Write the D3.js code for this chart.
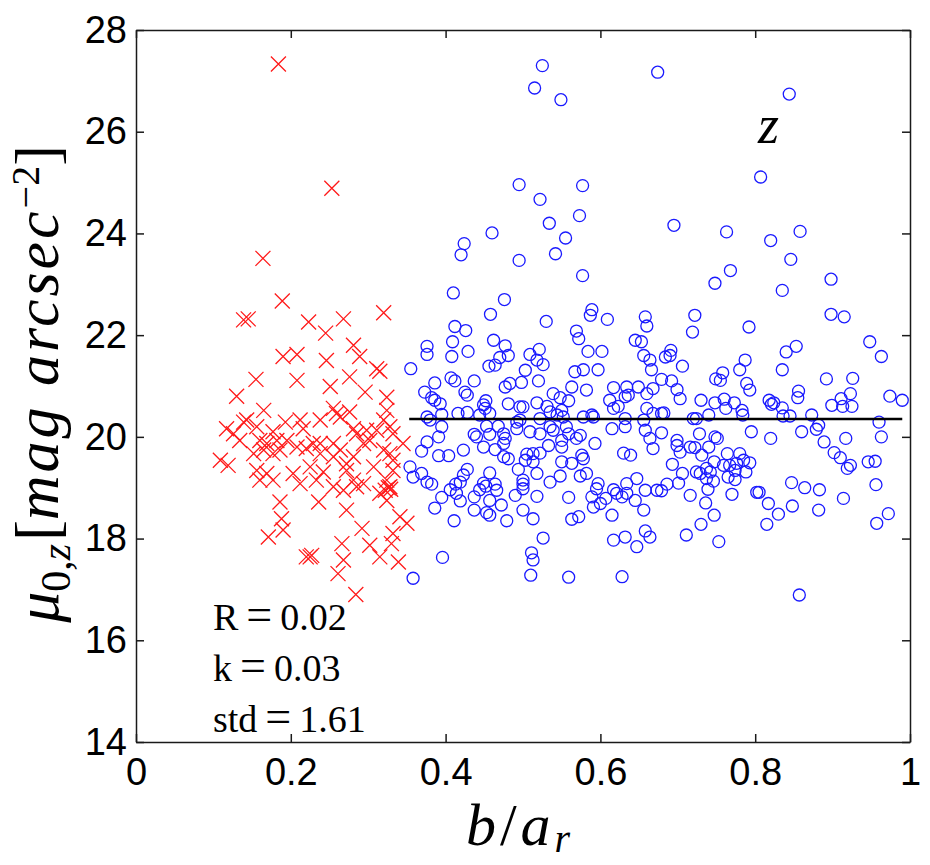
<!DOCTYPE html>
<html>
<head>
<meta charset="utf-8">
<script src="https://cdn.jsdelivr.net/npm/d3@7"></script>
<style>
  body { margin: 0; background: #fff; }
  .tick text { font-family: "Liberation Sans", Arial, sans-serif; font-size: 38px; fill: #000; }
  .tick line, .domain { stroke: #1a1a1a; stroke-width: 1.5px; }
</style>
</head>
<body>
<div id="chart"></div>
<script>
// scatter of mu_0,z against b/a_r, red x = small ratio, blue o = the rest

var xTicks = [0, 0.2, 0.4, 0.6, 0.8, 1];
var yTicks = [14, 16, 18, 20, 22, 24, 26, 28];

// fit line (b/a_r start, end, level)
var fitLine = [[0.353, 20.35], [0.99, 20.35]];

var statLines = ["R", "0.02", "k", "0.03", "std", "1.61"];

// b/a_r < 0.35, drawn as red crosses
var crossPoints = [
  [0.184,27.33],[0.253,24.89],[0.164,23.51],[0.189,22.67],[0.139,22.30],[0.145,22.32],[0.223,22.26],
  [0.268,22.32],[0.320,22.44],[0.245,22.04],[0.281,21.80],[0.190,21.58],[0.208,21.62],[0.289,21.58],
  [0.246,21.50],[0.155,21.13],[0.208,21.11],[0.311,21.34],[0.315,21.29],[0.251,20.99],[0.276,21.18],
  [0.130,20.80],[0.296,20.88],[0.324,20.78],[0.165,20.52],[0.255,20.56],[0.259,20.46],[0.264,20.39],
  [0.324,20.52],[0.143,20.33],[0.139,20.29],[0.117,20.16],[0.193,20.29],[0.212,20.33],[0.238,20.33],
  [0.276,20.49],[0.320,20.33],[0.126,20.06],[0.156,20.20],[0.177,20.10],[0.216,20.16],[0.281,20.16],
  [0.285,20.06],[0.298,20.13],[0.311,20.13],[0.328,20.20],[0.332,20.06],[0.345,19.87],[0.134,19.93],
  [0.160,19.93],[0.169,19.87],[0.182,19.93],[0.195,19.93],[0.229,19.87],[0.238,19.87],[0.255,19.87],
  [0.264,19.74],[0.294,19.87],[0.302,19.93],[0.320,19.74],[0.328,19.67],[0.109,19.54],[0.119,19.44],
  [0.152,19.67],[0.165,19.74],[0.177,19.67],[0.186,19.74],[0.208,19.80],[0.220,19.77],[0.238,19.67],
  [0.255,19.61],[0.272,19.47],[0.281,19.61],[0.307,19.41],[0.332,19.54],[0.156,19.34],[0.169,19.28],
  [0.177,19.15],[0.203,19.28],[0.225,19.41],[0.242,19.31],[0.272,19.34],[0.281,19.15],[0.294,19.08],
  [0.324,19.15],[0.328,19.02],[0.160,19.15],[0.212,19.08],[0.233,19.15],[0.255,19.02],[0.268,18.95],
  [0.285,19.02],[0.315,18.89],[0.332,19.34],[0.186,18.72],[0.236,18.72],[0.272,18.56],[0.324,18.75],
  [0.188,18.39],[0.190,18.17],[0.171,18.03],[0.220,17.64],[0.227,17.67],[0.225,17.64],[0.266,17.90],
  [0.268,17.58],[0.261,17.31],[0.292,18.20],[0.302,17.87],[0.315,17.64],[0.330,17.90],[0.332,18.10],
  [0.339,17.54],[0.341,18.43],[0.350,18.30],[0.284,16.90],[0.326,19.00],[0.322,18.95],[0.329,18.97]
];

// b/a_r >= 0.35, drawn as blue circles
var circlePoints = [
  [0.525,27.30],[0.515,26.86],[0.549,26.63],[0.674,27.17],[0.495,24.96],[0.577,24.94],[0.522,24.67],
  [0.573,24.35],[0.534,24.20],[0.460,24.01],[0.555,23.91],[0.424,23.80],[0.420,23.58],[0.495,23.47],
  [0.542,23.60],[0.577,23.17],[0.410,22.83],[0.476,22.70],
  [0.844,26.74],[0.807,25.11],[0.695,24.16],[0.763,24.03],[0.820,23.86],[0.858,24.04],[0.846,23.49],
  [0.768,23.27],[0.748,23.02],[0.898,23.10],[0.835,22.88],
  [0.458,22.41],[0.530,22.27],[0.589,22.50],[0.587,22.39],[0.609,22.31],[0.658,22.36],[0.660,22.18],
  [0.412,22.17],[0.426,22.09],[0.569,22.08],[0.572,21.93],[0.409,21.87],[0.376,21.78],[0.376,21.62],
  [0.429,21.68],[0.462,21.90],[0.477,21.79],[0.408,21.58],[0.481,21.60],[0.470,21.56],[0.456,21.39],
  [0.464,21.41],[0.509,21.62],[0.521,21.72],[0.518,21.51],[0.526,21.42],[0.584,21.68],[0.602,21.68],
  [0.645,21.90],[0.653,21.87],[0.656,21.60],[0.664,21.51],[0.355,21.34],[0.407,21.16],[0.412,21.10],
  [0.437,21.10],[0.503,21.31],[0.520,21.10],[0.567,21.28],[0.578,21.32],[0.597,21.32],[0.666,21.32],
  [0.386,21.06],[0.477,20.98],[0.483,21.05],[0.498,21.07],[0.563,20.98],[0.582,20.92],[0.617,20.97],
  [0.634,20.98],[0.649,20.98],[0.660,20.85],[0.668,20.95],[0.373,20.88],[0.382,20.77],[0.386,20.72],
  [0.393,20.65],[0.425,20.88],[0.428,20.82],[0.449,20.63],[0.452,20.71],[0.481,20.65],[0.496,20.59],
  [0.500,20.59],[0.518,20.67],[0.539,20.85],[0.548,20.77],[0.559,20.71],[0.531,20.60],[0.535,20.49],
  [0.544,20.43],[0.550,20.52],[0.612,20.72],[0.617,20.56],[0.623,20.60],[0.632,20.79],[0.636,20.82],
  [0.660,20.56],[0.376,20.39],[0.380,20.33],[0.395,20.44],[0.416,20.46],[0.428,20.48],[0.444,20.43],
  [0.451,20.56],[0.457,20.46],[0.492,20.29],[0.496,20.33],[0.522,20.36],[0.552,20.39],[0.578,20.39],
  [0.589,20.43],[0.591,20.39],[0.632,20.36],[0.656,20.33],[0.668,20.46],[0.395,20.20],[0.391,20.00],
  [0.376,19.90],[0.369,19.72],[0.391,19.63],[0.404,19.63],[0.423,19.74],[0.437,20.05],[0.440,20.00],
  [0.453,20.21],[0.457,20.05],[0.468,20.21],[0.475,20.06],[0.477,19.97],[0.475,19.87],[0.464,19.75],
  [0.449,19.80],[0.492,20.16],[0.509,20.10],[0.522,20.06],[0.535,20.20],[0.539,20.13],[0.556,20.20],
  [0.559,20.06],[0.569,19.97],[0.574,20.03],[0.550,19.93],[0.550,19.80],[0.533,19.83],[0.522,19.68],
  [0.513,19.67],[0.505,19.66],[0.503,19.54],[0.513,19.51],[0.550,19.51],[0.563,19.48],[0.576,19.64],
  [0.578,19.57],[0.593,19.87],[0.615,20.16],[0.632,20.20],[0.658,20.13],[0.664,19.97],[0.668,19.77],
  [0.630,19.68],[0.639,19.64],[0.475,19.61],[0.481,19.57],[0.494,19.36],[0.518,19.28],[0.535,19.11],
  [0.548,19.23],[0.574,19.23],[0.582,19.28],[0.354,19.41],[0.358,19.21],[0.369,19.28],[0.376,19.11],
  [0.382,19.07],[0.395,18.81],[0.386,18.60],[0.406,18.96],[0.413,19.07],[0.419,19.11],[0.423,19.25],
  [0.428,19.36],[0.414,18.89],[0.419,18.74],[0.437,18.82],[0.444,18.96],[0.449,19.09],[0.452,19.03],
  [0.457,19.29],[0.464,19.07],[0.466,18.95],[0.457,18.75],[0.453,18.51],[0.457,18.46],[0.437,18.56],
  [0.472,18.66],[0.490,18.85],[0.500,19.15],[0.500,19.07],[0.500,18.98],[0.518,18.83],[0.500,18.56],
  [0.513,18.39],[0.479,18.35],[0.411,18.35],[0.559,18.81],[0.589,18.82],[0.597,19.08],[0.595,18.98],
  [0.591,18.62],[0.600,18.69],[0.607,18.79],[0.615,18.46],[0.617,18.96],[0.621,18.89],[0.628,18.82],
  [0.634,18.89],[0.634,19.08],[0.647,19.18],[0.658,18.95],[0.656,18.56],[0.645,18.75],[0.673,18.95],
  [0.563,18.38],[0.572,18.43],[0.617,17.97],[0.632,18.03],[0.658,18.15],[0.664,18.03],[0.647,17.84],
  [0.526,18.01],[0.511,17.72],[0.513,17.58],[0.510,17.28],[0.396,17.63],[0.358,17.22],[0.559,17.24],
  [0.628,17.25],
  [0.722,22.39],[0.719,22.06],[0.792,22.16],[0.898,22.41],[0.915,22.36],[0.948,21.87],[0.963,21.58],
  [0.684,21.57],[0.691,21.70],[0.690,21.60],[0.706,21.39],[0.679,21.13],[0.692,21.10],[0.699,20.93],
  [0.703,20.75],[0.787,21.51],[0.780,21.32],[0.840,21.67],[0.853,21.78],[0.835,21.32],[0.749,21.14],
  [0.758,21.26],[0.755,21.11],[0.789,21.05],[0.793,20.92],[0.856,20.90],[0.855,20.77],[0.892,21.14],
  [0.926,21.15],[0.923,20.85],[0.974,20.80],[0.990,20.72],[0.730,20.72],[0.748,20.67],[0.760,20.74],
  [0.762,20.56],[0.773,20.67],[0.783,20.52],[0.784,20.43],[0.818,20.72],[0.821,20.64],[0.824,20.67],
  [0.835,20.57],[0.836,20.41],[0.845,20.41],[0.873,20.43],[0.899,20.62],[0.911,20.75],[0.913,20.60],
  [0.925,20.60],[0.720,20.36],[0.724,20.36],[0.740,20.43],[0.679,20.46],[0.682,20.47],[0.795,20.10],
  [0.820,19.97],[0.860,20.10],[0.879,20.15],[0.882,20.23],[0.889,19.90],[0.902,19.69],[0.910,19.59],
  [0.917,19.97],[0.919,19.38],[0.923,19.44],[0.946,19.51],[0.955,19.52],[0.960,20.29],[0.963,20.00],
  [0.956,19.06],[0.728,20.06],[0.748,20.00],[0.751,19.97],[0.679,20.08],[0.699,19.93],[0.699,19.83],
  [0.703,19.70],[0.716,19.80],[0.722,19.79],[0.731,19.64],[0.740,19.80],[0.764,19.67],[0.780,19.67],
  [0.793,19.49],[0.785,19.54],[0.776,19.48],[0.767,19.44],[0.759,19.44],[0.774,19.34],[0.788,19.31],
  [0.765,19.21],[0.774,19.16],[0.747,19.51],[0.737,19.38],[0.742,19.31],[0.737,19.18],[0.746,19.13],
  [0.724,19.31],[0.729,19.28],[0.693,19.46],[0.706,19.28],[0.701,19.09],[0.686,19.07],[0.679,18.94],
  [0.739,18.97],[0.716,18.85],[0.736,18.70],[0.770,18.87],[0.747,18.46],[0.730,18.28],[0.711,18.07],
  [0.753,17.94],[0.802,18.91],[0.805,18.91],[0.817,18.69],[0.830,18.48],[0.815,18.28],[0.847,19.10],
  [0.864,19.00],[0.883,18.96],[0.848,18.64],[0.882,18.56],[0.914,18.79],[0.972,18.49],[0.957,18.30],
  [0.857,16.89]
];

var svgWidth = 930;
var svgHeight = 865;
var margin = { top: 30, right: 20, bottom: 123, left: 136 };
var width = svgWidth - margin.left - margin.right;
var height = svgHeight - margin.top - margin.bottom;

var svg = d3.select("#chart")
    .append("svg")
    .attr("width", svgWidth)
    .attr("height", svgHeight)
    .style("background", "#fff");

var chartGroup = svg.append("g")
    .attr("transform", `translate(${margin.left}, ${margin.top})`);

var xScale = d3.scaleLinear().domain([0, 1]).range([0, width]);
var yScale = d3.scaleLinear().domain([14, 28]).range([height, 0]);

// axes, ticks point inward on all four sides (matlab box)
chartGroup.append("g")
    .attr("transform", `translate(0, ${height})`)
    .call(d3.axisBottom(xScale).tickValues(xTicks).tickSizeInner(-8).tickSizeOuter(0).tickPadding(16)
        .tickFormat(d => d3.format("")(d)));

chartGroup.append("g")
    .call(d3.axisLeft(yScale).tickValues(yTicks).tickSizeInner(-8).tickSizeOuter(0).tickPadding(9));

chartGroup.append("g")
    .call(d3.axisTop(xScale).tickValues(xTicks).tickSizeInner(-8).tickSizeOuter(0).tickFormat(""));

chartGroup.append("g")
    .attr("transform", `translate(${width}, 0)`)
    .call(d3.axisRight(yScale).tickValues(yTicks).tickSizeInner(-8).tickSizeOuter(0).tickFormat(""));

// crosses
chartGroup.append("g")
    .selectAll("path")
    .data(crossPoints)
    .enter()
    .append("path")
    .attr("transform", d => `translate(${xScale(d[0])}, ${yScale(d[1])})`)
    .attr("d", "M-7.5,-7.5L7.5,7.5M-7.5,7.5L7.5,-7.5")
    .attr("stroke", "#ff1a1a")
    .attr("stroke-width", 1.3)
    .attr("fill", "none");

// circles
chartGroup.append("g")
    .selectAll("circle")
    .data(circlePoints)
    .enter()
    .append("circle")
    .attr("cx", d => xScale(d[0]))
    .attr("cy", d => yScale(d[1]))
    .attr("r", 6)
    .attr("stroke", "#1a1aff")
    .attr("stroke-width", 1.3)
    .attr("fill", "none");

// fit line
chartGroup.append("line")
    .attr("x1", xScale(fitLine[0][0]))
    .attr("y1", yScale(fitLine[0][1]))
    .attr("x2", xScale(fitLine[1][0]))
    .attr("y2", yScale(fitLine[1][1]))
    .attr("stroke", "#000")
    .attr("stroke-width", 2.6);

// band label
chartGroup.append("text")
    .attr("x", 622)
    .attr("y", 113)
    .attr("font-family", "Liberation Serif, serif")
    .attr("font-style", "italic")
    .attr("font-size", 54)
    .text("z");

// R, k, std
var stats = chartGroup.append("g")
    .attr("font-family", "Liberation Serif, serif")
    .attr("font-size", 38)
    .attr("fill", "#000");

for (var i = 0; i < 3; i++) {
    var t = stats.append("text")
        .attr("x", 77)
        .attr("y", 600 + i * 51);
    t.append("tspan").text(statLines[i * 2]);
    t.append("tspan").attr("dx", 8).attr("font-size", 46).text("=");
    t.append("tspan").attr("dx", 8).text(statLines[i * 2 + 1]);
}

// x label
var xLabel = svg.append("text")
    .attr("x", margin.left + width / 2 - 3)
    .attr("y", 845)
    .attr("text-anchor", "middle")
    .attr("font-family", "Liberation Serif, serif")
    .attr("font-style", "italic")
    .attr("font-size", 60)
    .attr("letter-spacing", 4);
xLabel.append("tspan").text("b");
xLabel.append("tspan").attr("font-style", "normal").text("/");
xLabel.append("tspan").text("a");
xLabel.append("tspan").attr("font-size", 40).attr("dy", 7).text("r");

// y label
var yLabel = svg.append("text")
    .attr("transform", "translate(58, 384) rotate(-90)")
    .attr("text-anchor", "middle")
    .attr("font-family", "Liberation Serif, serif")
    .attr("font-size", 62);
yLabel.append("tspan").attr("font-style", "italic").text("μ");
yLabel.append("tspan").attr("font-size", 42).attr("dy", 12).text("0,");
yLabel.append("tspan").attr("font-size", 42).attr("font-style", "italic").text("z");
yLabel.append("tspan").attr("dy", -12).attr("dx", 3).text("[");
yLabel.append("tspan").attr("font-style", "italic").attr("letter-spacing", 3).text("mag arcsec");
yLabel.append("tspan").attr("font-size", 40).attr("dy", -19).text("−2");
yLabel.append("tspan").attr("dy", 19).text("]");
</script>
</body>
</html>
